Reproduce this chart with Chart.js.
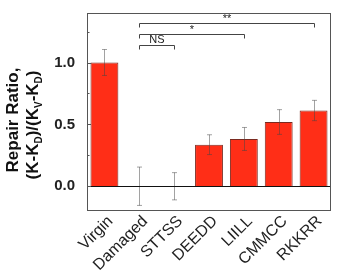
<!DOCTYPE html>
<html><head><meta charset="utf-8">
<script src="https://cdn.jsdelivr.net/npm/chart.js@4/dist/chart.umd.min.js"></script>
<style>html,body{margin:0;padding:0;background:#fff}#wrap{width:337px;height:271px}</style>
</head><body><div id="wrap"><canvas id="c"></canvas></div>
<script>
const categories = ['Virgin','Damaged','STTSS','DEEDD','LIILL','CMMCC','RKKRR'];
const ratios = [1.0, 0.0, 0.0, 0.336, 0.382, 0.519, 0.612];
const errors = [0.105, 0.155, 0.11, 0.08, 0.093, 0.1, 0.082];
const yTicks = [0.0, 0.5, 1.0];
const yMinorTicks = [0.25, 0.75, 1.25];
const brackets = [
  {from: 1, to: 2, level: 1.143, label: 'NS'},
  {from: 1, to: 4, level: 1.228, label: '*'},
  {from: 1, to: 6, level: 1.32, label: '**'}
];

const extras = {
  id: 'extras',
  afterDatasetsDraw(chart) {
    const ctx = chart.ctx, x = chart.scales.x, y = chart.scales.y, a = chart.chartArea;
    ctx.save();
    // error bars
    ctx.strokeStyle = 'rgba(70,70,70,0.5)';
    ctx.lineWidth = 1;
    ratios.forEach((v, i) => {
      const px = Math.round(x.getPixelForValue(i)) + 0.5;
      const t = y.getPixelForValue(v + errors[i]), b = y.getPixelForValue(v - errors[i]);
      ctx.beginPath();
      ctx.moveTo(px, t); ctx.lineTo(px, b);
      ctx.moveTo(px - 2.5, t); ctx.lineTo(px + 2.5, t);
      ctx.moveTo(px - 2.5, b); ctx.lineTo(px + 2.5, b);
      ctx.stroke();
    });
    // zero line
    ctx.strokeStyle = '#111';
    const zy = Math.round(y.getPixelForValue(0)) + 0.5;
    ctx.beginPath(); ctx.moveTo(a.left, zy); ctx.lineTo(a.right, zy); ctx.stroke();
    // frame
    ctx.strokeStyle = '#555';
    ctx.strokeRect(Math.round(a.left) + 0.5, Math.round(a.top) + 0.5, Math.round(a.right - a.left) - 1, Math.round(a.bottom - a.top) - 1);
    // y ticks inward
    ctx.beginPath();
    yTicks.forEach(v => { const p = Math.round(y.getPixelForValue(v)) + 0.5; ctx.moveTo(a.left, p); ctx.lineTo(a.left + 4, p); });
    yMinorTicks.forEach(v => { const p = Math.round(y.getPixelForValue(v)) + 0.5; ctx.moveTo(a.left, p); ctx.lineTo(a.left + 2.5, p); });
    ctx.stroke();
    // brackets
    ctx.strokeStyle = '#444';
    ctx.fillStyle = '#222';
    ctx.textAlign = 'center';
    ctx.textBaseline = 'bottom';
    brackets.forEach(br => {
      const x1 = Math.round(x.getPixelForValue(br.from)) + 0.5, x2 = Math.round(x.getPixelForValue(br.to)) + 0.5;
      const py = Math.round(y.getPixelForValue(br.level)) + 0.5;
      ctx.beginPath();
      ctx.moveTo(x1, py + 4); ctx.lineTo(x1, py); ctx.lineTo(x2, py); ctx.lineTo(x2, py + 4);
      ctx.stroke();
      ctx.font = '11px "Liberation Sans", Arial';
      ctx.fillText(br.label, (x1 + x2) / 2, br.label === 'NS' ? py : py + 1);
    });
    // y title
    const drawSub = (segs, bx, cy, size) => {
      const main = 'bold ' + size + 'px "Liberation Sans", Arial';
      const sub = 'bold ' + Math.round(size * 0.6) + 'px "Liberation Sans", Arial';
      let w = 0;
      segs.forEach(s => { ctx.font = s[1] ? sub : main; w += ctx.measureText(s[0]).width; });
      ctx.save();
      ctx.translate(bx, cy);
      ctx.rotate(-Math.PI / 2);
      ctx.textAlign = 'left'; ctx.textBaseline = 'alphabetic';
      let cx = -w / 2;
      segs.forEach(s => {
        ctx.font = s[1] ? sub : main;
        ctx.fillText(s[0], cx, s[1] ? size * 0.25 : 0);
        cx += ctx.measureText(s[0]).width;
      });
      ctx.restore();
    };
    ctx.fillStyle = '#111';
    drawSub([['Repair Ratio,', false]], 18, 120, 17);
    drawSub([['(K-K', false], ['D', true], [')/(K', false], ['V', true], ['-K', false], ['D', true], [')', false]], 38, 125, 17);
    ctx.restore();
  }
};

new Chart(document.getElementById('c'), {
  type: 'bar',
  data: {
    labels: categories,
    datasets: [{
      data: ratios,
      backgroundColor: '#ff2e17',
      borderColor: '#7a2a20',
      borderWidth: 1,
      categoryPercentage: 0.8,
      barPercentage: 1.0
    }]
  },
  options: {
    responsive: true,
    maintainAspectRatio: false,
    animation: false,
    devicePixelRatio: 1,
    layout: {padding: {top: 13, right: 6, left: 0, bottom: 0}},
    plugins: {legend: {display: false}, tooltip: {enabled: false}},
    scales: {
      x: {
        grid: {display: false},
        border: {display: false},
        ticks: {
          maxRotation: 45, minRotation: 45, autoSkip: false,
          color: '#222', font: {family: '"Liberation Sans", Arial', size: 16},
          padding: -7, labelOffset: 6
        },
        afterFit(s) { s.height = 60; }
      },
      y: {
        min: -0.2, max: 1.4,
        grid: {display: false},
        border: {display: false},
        afterBuildTicks(s) { s.ticks = yTicks.map(v => ({value: v})); },
        ticks: {
          color: '#222', font: {family: '"Liberation Sans", Arial', size: 15, weight: 'bold'},
          padding: 4,
          callback: v => Number(v).toFixed(1)
        },
        afterFit(s) { s.width = 87; }
      }
    }
  },
  plugins: [extras]
});
</script></body></html>
